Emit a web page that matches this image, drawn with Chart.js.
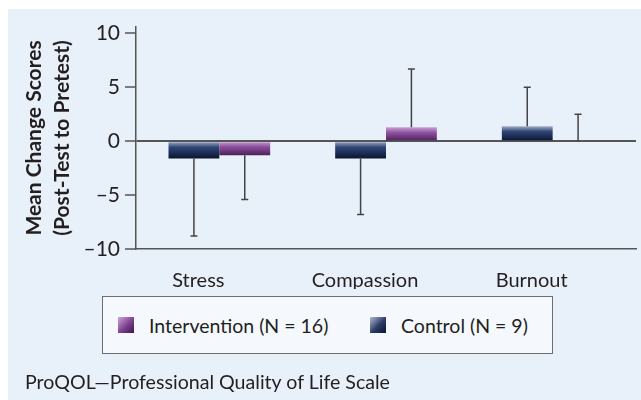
<!DOCTYPE html>
<html>
<head>
<meta charset="utf-8">
<script src="https://cdn.jsdelivr.net/npm/chart.js@4.4.1/dist/chart.umd.min.js"></script>
<style>
  body { margin: 0; background: #fff; }
  #panel { position: absolute; left: 8px; top: 9px; width: 633px; height: 391px; background: #e8f0f9; font-family: Lato, sans-serif; color: #231f20; }
  #myChart { position: absolute; left: 0; top: 0; }
  #legend { position: absolute; left: 94px; top: 287px; width: 449px; height: 56px; border: 1px solid #6d6d6d; background: #f5f8fc; }
  .item { position: absolute; top: 0; height: 56px; display: flex; align-items: center; font-size: 19.5px; white-space: nowrap; }
  .swatch { width: 16px; height: 16px; margin-right: 15px; }
  #note { position: absolute; left: 17px; top: 363px; font-size: 19.6px; line-height: 19px; }
</style>
</head>
<body>
<div id="panel">
  <canvas id="myChart" width="633" height="391"></canvas>
  <div id="legend"></div>
  <div id="note">ProQOL—Professional Quality of Life Scale</div>
</div>
<script>
const categories = ['Stress', 'Compassion', 'Burnout']
const controlMeans = [-1.6, -1.6, 1.4]
const controlSD = [7.2, 5.2, 3.6]
const interventionMeans = [-1.3, 1.3, 0]
const interventionSD = [4.1, 5.4, 2.5]
const yTicks = [-10, -5, 0, 5, 10]

const fontFamily = 'Lato, sans-serif'
const textColor = '#231f20'
const axisColor = '#555'

// vertical gradient inside each bar, light at the top
const barFill = (stops) => (ctx) => {
    const chart = ctx.chart
    if (ctx.type !== 'data' || !chart.chartArea) return stops[1][1]
    const y = chart.scales.y
    const a = y.getPixelForValue(0)
    const b = y.getPixelForValue(ctx.raw)
    if (Math.abs(a - b) < 1) return stops[1][1]
    const g = chart.ctx.createLinearGradient(0, Math.min(a, b), 0, Math.max(a, b))
    stops.forEach(s => g.addColorStop(s[0], s[1]))
    return g
}
const navyStops = [[0, '#a5b1c8'], [0.35, '#2f4676'], [1, '#0a1532']]
const purpleStops = [[0, '#c9a0d2'], [0.4, '#8e4f9e'], [1, '#4b2257']]
const swatchCss = ['linear-gradient(135deg, #b4bccf, #2a3a64 55%, #0c1430)',
                   'linear-gradient(135deg, #cfa8da, #7c3f8e 55%, #3a1846)']

const errorBars = {
    id: 'errorBars',
    afterDatasetsDraw(chart) {
        const ctx = chart.ctx
        const y = chart.scales.y
        ctx.save()
        ctx.strokeStyle = '#444'
        ctx.lineWidth = 1.5
        chart.data.datasets.forEach((ds, i) => {
            chart.getDatasetMeta(i).data.forEach((bar, j) => {
                const m = ds.data[j]
                const dir = m < 0 ? -1 : 1
                const y0 = y.getPixelForValue(m)
                const y1 = y.getPixelForValue(m + dir * ds.sd[j])
                ctx.beginPath()
                ctx.moveTo(bar.x, y0)
                ctx.lineTo(bar.x, y1)
                ctx.moveTo(bar.x - 3.5, y1)
                ctx.lineTo(bar.x + 3.5, y1)
                ctx.stroke()
            })
        })
        ctx.restore()
    }
}

// boxed legend under the chart, Intervention listed first
const htmlLegend = (chart) => {
    const box = document.getElementById('legend')
    const lefts = [15, 267]
    ;[1, 0].forEach((dsIndex, k) => {
        const item = document.createElement('div')
        item.className = 'item'
        item.style.left = lefts[k] + 'px'
        const sw = document.createElement('span')
        sw.className = 'swatch'
        sw.style.background = swatchCss[dsIndex]
        const label = document.createElement('span')
        label.textContent = chart.data.datasets[dsIndex].label
        item.appendChild(sw)
        item.appendChild(label)
        box.appendChild(item)
    })
}

const renderChart = () => {
    const ctx = document.getElementById('myChart').getContext('2d')
    const myChart = new Chart(ctx, {
        type: 'bar',
        data: {
            labels: categories,
            datasets: [
                { label: 'Control (N = 9)', data: controlMeans, sd: controlSD,
                  backgroundColor: barFill(navyStops), borderWidth: 0 },
                { label: 'Intervention (N = 16)', data: interventionMeans, sd: interventionSD,
                  backgroundColor: barFill(purpleStops), borderWidth: 0 }
            ]
        },
        options: {
            responsive: false,
            animation: false,
            categoryPercentage: 0.61,
            barPercentage: 1,
            layout: { padding: { top: 18, right: 5, left: 0, bottom: 111 } },
            scales: {
                x: {
                    grid: { display: false },
                    border: { color: axisColor, width: 1.5 },
                    ticks: { color: textColor, font: { family: fontFamily, size: 20 }, labelOffset: -21, padding: 12 },
                    afterFit: (s) => { s.height = 40 }
                },
                y: {
                    min: -10,
                    max: 10.6,
                    afterBuildTicks: (s) => { s.ticks = yTicks.map(v => ({ value: v })) },
                    grid: {
                        color: (c) => c.tick && c.tick.value === 0 ? axisColor : 'transparent',
                        lineWidth: 2,
                        tickColor: axisColor,
                        tickLength: 11,
                        tickWidth: 1.5
                    },
                    border: { color: axisColor, width: 1.5 },
                    ticks: {
                        color: textColor,
                        font: { family: fontFamily, size: 21 },
                        padding: 5,
                        callback: (v) => v < 0 ? '\u2013' + Math.abs(v) : String(v)
                    },
                    title: {
                        display: true,
                        text: ['Mean Change Scores', '(Post-Test to Pretest)'],
                        color: textColor,
                        font: { family: fontFamily, size: 21, weight: 'bold', lineHeight: 1.33 },
                        padding: { top: 12, bottom: 0 }
                    },
                    afterFit: (s) => { s.width = 128 }
                }
            },
            plugins: {
                legend: { display: false },
                tooltip: { enabled: false }
            }
        },
        plugins: [errorBars]
    })
    htmlLegend(myChart)
}

document.onload = renderChart()
</script>
</body>
</html>
